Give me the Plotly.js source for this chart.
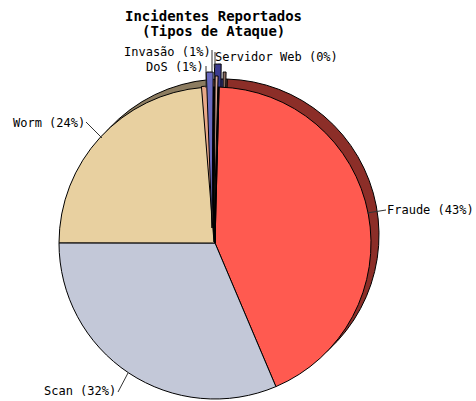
<!DOCTYPE html>
<html><head><meta charset="utf-8"><script src="https://cdn.plot.ly/plotly-3.0.1.min.js"></script>
<style>html,body{margin:0;padding:0;background:#fff}</style></head><body><div id="c" style="width:476px;height:401px"></div>
<script>
const W=476,H=401;
const categories=['Fraude','Scan','Worm','DoS','Invasão','Servidor Web'];
const values=[43.2,31.4,23.7,0.7,0.7,0.3];
const shown=[43,32,24,1,1,0];
const faceColors=['#ff5a50','#c3c8d8','#e8d0a0','#e8a888','#6a6ac0','#d8a898'];
const darkColors=['#8c2e28','#8c2e28','#8c7c60','#8c5c4c','#3c3c90','#8c6c60'];
const NONE='rgba(0,0,0,0)';
function dom(cx,cy,r){return {x:[(cx-r)/W,(cx+r)/W],y:[1-(cy+r)/H,1-(cy-r)/H]};}
function pie(cx,cy,r,cols,widths){return {type:'pie',labels:categories,values:values,sort:false,direction:'clockwise',rotation:1.5,
 textinfo:'none',hoverinfo:'label',showlegend:false,domain:dom(cx,cy,r),
 marker:{colors:cols,line:{color:'#000',width:widths}}};}
function only(cols,idx){return cols.map((c,i)=>i===idx?c:NONE);}
function onlyW(idx){return categories.map((c,i)=>i===idx?1:0);}
const baseFaces=faceColors.map((c,i)=>i<3?c:'#000');
const data=[
 pie(223,235,156,darkColors,[1,1,1,1,1,1]),
 pie(220,220,156,only(darkColors,4),onlyW(4)),
 pie(222,228,156,only(darkColors,5),onlyW(5)),
 pie(215,243,156,baseFaces,[1,1,1,1,1,1]),
 pie(214,242,156,only(faceColors,3),onlyW(3)),
 pie(212,228,156,only(faceColors,4),onlyW(4)),
 pie(214,232,156,only(faceColors,5),onlyW(5))
];
const font={family:'"DejaVu Sans Mono",monospace',size:12,color:'#000'};
const labelPos=[[385,210],[42,391],[11,123],[144,67],[122,52],[213,57]];
const annotations=categories.map((c,i)=>({xref:'paper',yref:'paper',x:labelPos[i][0]/W,y:1-labelPos[i][1]/H,xanchor:'left',yanchor:'middle',showarrow:false,text:`${c} (${shown[i]}%)`,font}));
const titleFont={family:'"DejaVu Sans Mono",monospace',size:14,color:'#000'};
annotations.push({xref:'paper',yref:'paper',x:213/W,y:1-16/H,showarrow:false,xanchor:'center',yanchor:'middle',text:'<b>Incidentes Reportados</b>',font:titleFont});
annotations.push({xref:'paper',yref:'paper',x:213/W,y:1-31/H,showarrow:false,xanchor:'center',yanchor:'middle',text:'<b>(Tipos de Ataque)</b>',font:titleFont});
const leaders=[[386,210,367,213],[118,392,128,373],[86,122,102,138],[206,66,206,88],[212,50,212,73],[215,52,215,68]];
const shapes=leaders.map(l=>({type:'line',xref:'paper',yref:'paper',x0:l[0]/W,y0:1-l[1]/H,x1:l[2]/W,y1:1-l[3]/H,line:{color:'#333',width:1}}));
Plotly.newPlot('c',data,{width:W,height:H,margin:{l:0,r:0,t:0,b:0},paper_bgcolor:'#fff',annotations,shapes},{displayModeBar:false,staticPlot:true});
</script></body></html>
